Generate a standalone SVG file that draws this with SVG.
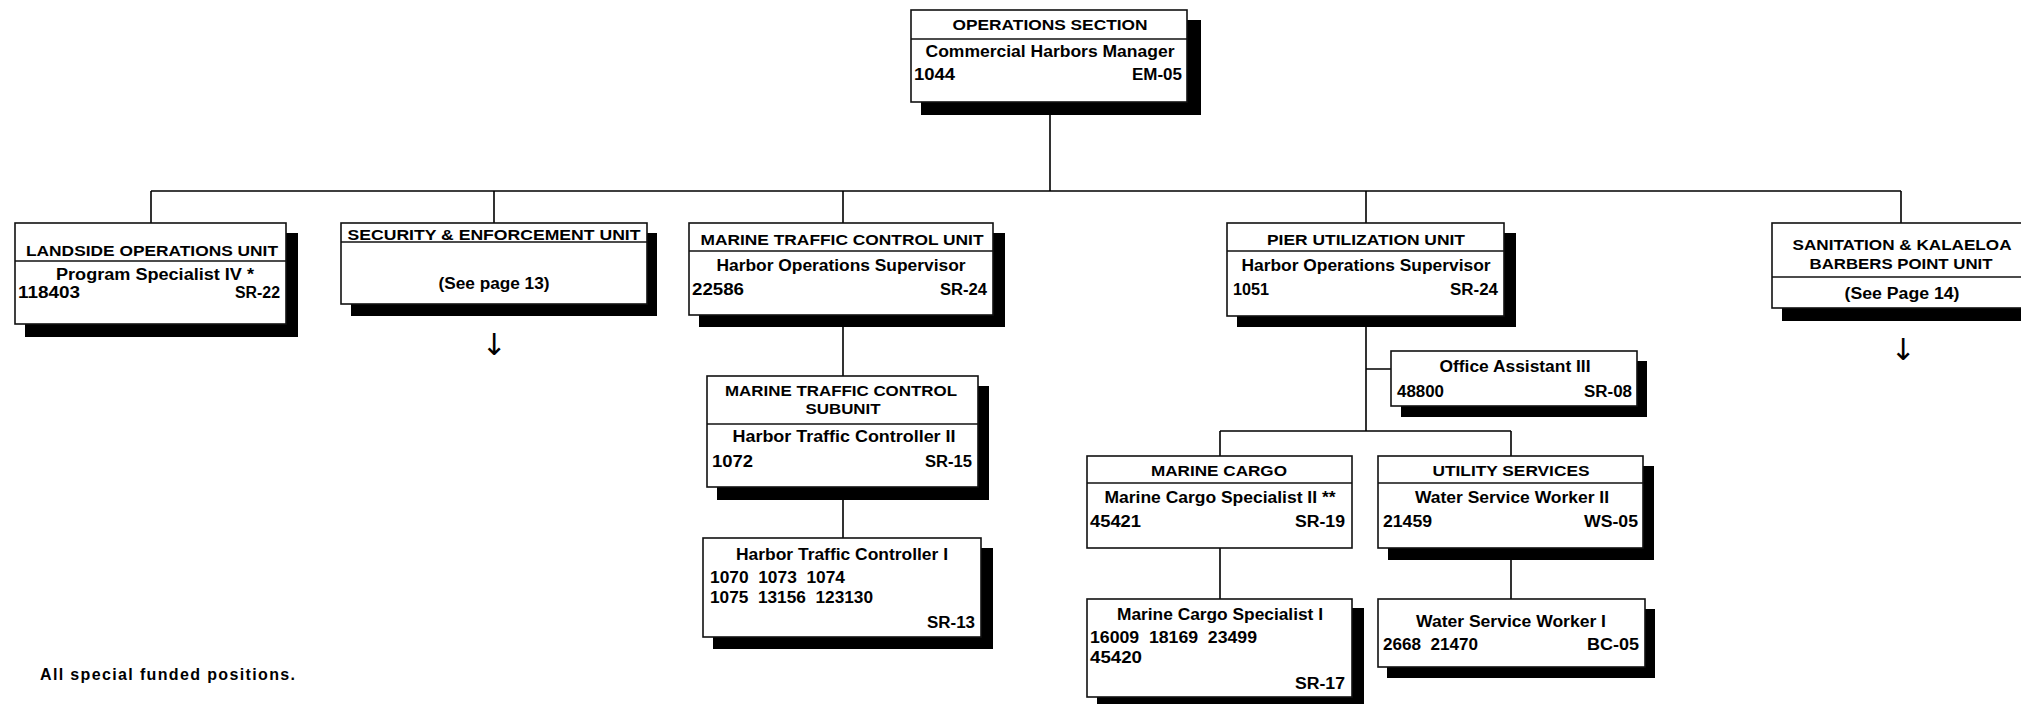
<svg xmlns="http://www.w3.org/2000/svg" width="2021" height="704" viewBox="0 0 2021 704">
<style>
.box{fill:#fff;stroke:#111;stroke-width:1.6}
.sh{fill:#000}
.dv{stroke:#111;stroke-width:1.6}
.ln{stroke:#000;stroke-width:1.6;fill:none}
text{font-family:"Liberation Sans",Arial,sans-serif;font-weight:bold;fill:#000}
.h{font-size:15px;text-anchor:middle}
.t{font-size:16px;text-anchor:middle}
.n{font-size:16px}
.r{font-size:16px;text-anchor:end}
.ar{font-family:"DejaVu Sans",sans-serif;font-weight:normal;font-size:30px;text-anchor:middle;fill:#000}
</style>
<rect width="2021" height="704" fill="#fff"/>
<g id="connectors">
<path class="ln" d="M1050,102V191M151,191H1901M151,191V223M494,191V223M843,191V223M1366,191V223M1901,191V223M843,315V376M843,487V538M1366,316V431M1366,369H1391M1220,431H1511M1220,431V456M1511,431V456M1220,548V599M1511,548V599"/>
</g>
<g id="ops">
<rect class="sh" x="921" y="20" width="280" height="95"/>
<rect class="box" x="911" y="10" width="276" height="92"/>
<line class="dv" x1="911" y1="39" x2="1187" y2="39"/>
<text class="h" x="1050" y="30" textLength="195" lengthAdjust="spacingAndGlyphs">OPERATIONS SECTION</text>
<text class="t" x="1050" y="57" textLength="249" lengthAdjust="spacingAndGlyphs">Commercial Harbors Manager</text>
<text class="n" x="914" y="80" textLength="41" lengthAdjust="spacingAndGlyphs">1044</text>
<text class="r" x="1182" y="80" textLength="50" lengthAdjust="spacingAndGlyphs">EM-05</text>
</g>
<g id="landside">
<rect class="sh" x="25" y="233" width="273" height="104"/>
<rect class="box" x="15" y="223" width="271" height="101"/>
<line class="dv" x1="15" y1="261" x2="286" y2="261"/>
<text class="h" x="152" y="256" textLength="252" lengthAdjust="spacingAndGlyphs">LANDSIDE OPERATIONS UNIT</text>
<text class="t" x="155" y="280" textLength="198" lengthAdjust="spacingAndGlyphs">Program Specialist IV *</text>
<text class="n" x="18" y="298" textLength="62" lengthAdjust="spacingAndGlyphs">118403</text>
<text class="r" x="280" y="298" textLength="45" lengthAdjust="spacingAndGlyphs">SR-22</text>
</g>
<g id="security">
<rect class="sh" x="351" y="233" width="306" height="83"/>
<rect class="box" x="341" y="223" width="306" height="81"/>
<line class="dv" x1="341" y1="242" x2="647" y2="242"/>
<text class="h" x="494" y="240" textLength="293" lengthAdjust="spacingAndGlyphs">SECURITY &amp; ENFORCEMENT UNIT</text>
<text class="t" x="494" y="289" textLength="111" lengthAdjust="spacingAndGlyphs">(See page 13)</text>
<text class="ar" x="494" y="355">↓</text>
</g>
<g id="mtcu">
<rect class="sh" x="699" y="233" width="306" height="94"/>
<rect class="box" x="689" y="223" width="304" height="92"/>
<line class="dv" x1="689" y1="251" x2="993" y2="251"/>
<text class="h" x="842" y="245" textLength="283" lengthAdjust="spacingAndGlyphs">MARINE TRAFFIC CONTROL UNIT</text>
<text class="t" x="841" y="271" textLength="249" lengthAdjust="spacingAndGlyphs">Harbor Operations Supervisor</text>
<text class="n" x="692" y="295" textLength="52" lengthAdjust="spacingAndGlyphs">22586</text>
<text class="r" x="987" y="295" textLength="47" lengthAdjust="spacingAndGlyphs">SR-24</text>
</g>
<g id="mtc-subunit">
<rect class="sh" x="717" y="386" width="272" height="114"/>
<rect class="box" x="707" y="376" width="271" height="111"/>
<line class="dv" x1="707" y1="424" x2="978" y2="424"/>
<text class="h" x="841" y="396" textLength="232" lengthAdjust="spacingAndGlyphs">MARINE TRAFFIC CONTROL</text>
<text class="h" x="843" y="414" textLength="75" lengthAdjust="spacingAndGlyphs">SUBUNIT</text>
<text class="t" x="844" y="442" textLength="223" lengthAdjust="spacingAndGlyphs">Harbor Traffic Controller II</text>
<text class="n" x="712" y="467" textLength="41" lengthAdjust="spacingAndGlyphs">1072</text>
<text class="r" x="972" y="467" textLength="47" lengthAdjust="spacingAndGlyphs">SR-15</text>
</g>
<g id="htc1">
<rect class="sh" x="713" y="548" width="280" height="101"/>
<rect class="box" x="703" y="538" width="278" height="99"/>
<text class="t" x="842" y="560" textLength="212" lengthAdjust="spacingAndGlyphs">Harbor Traffic Controller I</text>
<text class="n" x="710" y="583" xml:space="preserve" textLength="135" lengthAdjust="spacingAndGlyphs">1070  1073  1074</text>
<text class="n" x="710" y="603" xml:space="preserve" textLength="163" lengthAdjust="spacingAndGlyphs">1075  13156  123130</text>
<text class="r" x="975" y="628" textLength="48" lengthAdjust="spacingAndGlyphs">SR-13</text>
</g>
<g id="pier">
<rect class="sh" x="1237" y="233" width="279" height="94"/>
<rect class="box" x="1227" y="223" width="277" height="93"/>
<line class="dv" x1="1227" y1="251" x2="1504" y2="251"/>
<text class="h" x="1366" y="245" textLength="198" lengthAdjust="spacingAndGlyphs">PIER UTILIZATION UNIT</text>
<text class="t" x="1366" y="271" textLength="249" lengthAdjust="spacingAndGlyphs">Harbor Operations Supervisor</text>
<text class="n" x="1233" y="295" textLength="36" lengthAdjust="spacingAndGlyphs">1051</text>
<text class="r" x="1498" y="295" textLength="48" lengthAdjust="spacingAndGlyphs">SR-24</text>
</g>
<g id="office-assistant">
<rect class="sh" x="1401" y="361" width="246" height="56"/>
<rect class="box" x="1391" y="351" width="246" height="55"/>
<text class="t" x="1515" y="372" textLength="151" lengthAdjust="spacingAndGlyphs">Office Assistant III</text>
<text class="n" x="1397" y="397" textLength="47" lengthAdjust="spacingAndGlyphs">48800</text>
<text class="r" x="1632" y="397" textLength="48" lengthAdjust="spacingAndGlyphs">SR-08</text>
</g>
<g id="marine-cargo">
<rect class="box" x="1087" y="456" width="265" height="92"/>
<line class="dv" x1="1087" y1="483" x2="1352" y2="483"/>
<text class="h" x="1219" y="476" textLength="136" lengthAdjust="spacingAndGlyphs">MARINE CARGO</text>
<text class="t" x="1220" y="503" textLength="231" lengthAdjust="spacingAndGlyphs">Marine Cargo Specialist II **</text>
<text class="n" x="1090" y="527" textLength="51" lengthAdjust="spacingAndGlyphs">45421</text>
<text class="r" x="1345" y="527" textLength="50" lengthAdjust="spacingAndGlyphs">SR-19</text>
</g>
<g id="marine-cargo-1">
<rect class="sh" x="1097" y="608" width="267" height="100"/>
<rect class="box" x="1087" y="599" width="265" height="98"/>
<text class="t" x="1220" y="620" textLength="206" lengthAdjust="spacingAndGlyphs">Marine Cargo Specialist I</text>
<text class="n" x="1090" y="643" xml:space="preserve" textLength="167" lengthAdjust="spacingAndGlyphs">16009  18169  23499</text>
<text class="n" x="1090" y="663" textLength="52" lengthAdjust="spacingAndGlyphs">45420</text>
<text class="r" x="1345" y="689" textLength="50" lengthAdjust="spacingAndGlyphs">SR-17</text>
</g>
<g id="utility">
<rect class="sh" x="1388" y="466" width="266" height="94"/>
<rect class="box" x="1378" y="456" width="265" height="92"/>
<line class="dv" x1="1378" y1="483" x2="1643" y2="483"/>
<text class="h" x="1511" y="476" textLength="157" lengthAdjust="spacingAndGlyphs">UTILITY SERVICES</text>
<text class="t" x="1512" y="503" textLength="194" lengthAdjust="spacingAndGlyphs">Water Service Worker II</text>
<text class="n" x="1383" y="527" textLength="49" lengthAdjust="spacingAndGlyphs">21459</text>
<text class="r" x="1638" y="527" textLength="54" lengthAdjust="spacingAndGlyphs">WS-05</text>
</g>
<g id="water-1">
<rect class="sh" x="1387" y="609" width="268" height="69"/>
<rect class="box" x="1378" y="599" width="267" height="68"/>
<text class="t" x="1511" y="627" textLength="190" lengthAdjust="spacingAndGlyphs">Water Service Worker I</text>
<text class="n" x="1383" y="650" xml:space="preserve" textLength="95" lengthAdjust="spacingAndGlyphs">2668  21470</text>
<text class="r" x="1639" y="650" textLength="52" lengthAdjust="spacingAndGlyphs">BC-05</text>
</g>
<g id="sanitation">
<rect class="sh" x="1782" y="233" width="263" height="88"/>
<rect class="box" x="1772" y="223" width="263" height="85"/>
<line class="dv" x1="1772" y1="277" x2="2035" y2="277"/>
<text class="h" x="1902" y="250" textLength="219" lengthAdjust="spacingAndGlyphs">SANITATION &amp; KALAELOA</text>
<text class="h" x="1901" y="269" textLength="183" lengthAdjust="spacingAndGlyphs">BARBERS POINT UNIT</text>
<text class="t" x="1902" y="299" textLength="115" lengthAdjust="spacingAndGlyphs">(See Page 14)</text>
<text class="ar" x="1903" y="360">↓</text>
</g>
<g id="footnote">
<text x="40" y="680" font-size="16" textLength="255" lengthAdjust="spacing">All special funded positions.</text>
</g>
</svg>
